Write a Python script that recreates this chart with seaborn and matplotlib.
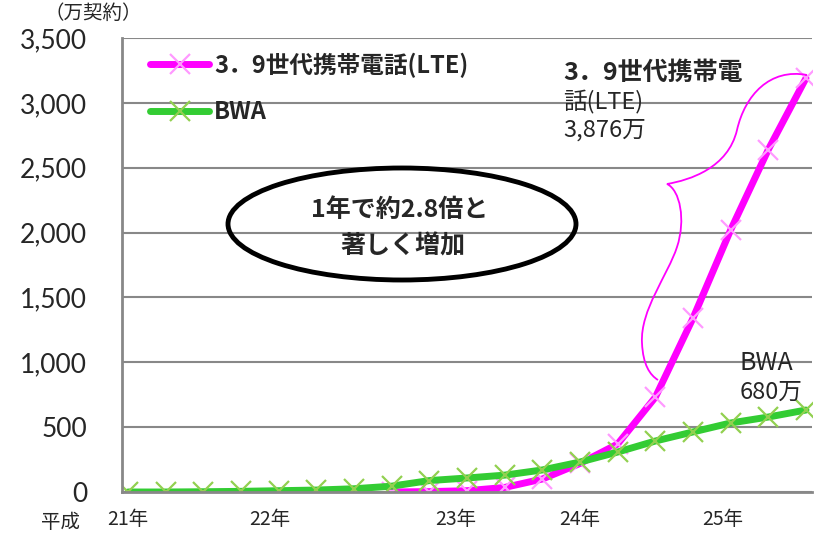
import numpy as np
import matplotlib
matplotlib.use('Agg')
import matplotlib.pyplot as plt
import seaborn as sns
from matplotlib.patches import Ellipse, PathPatch
from matplotlib.path import Path
from matplotlib.transforms import Affine2D
from matplotlib.ticker import StrMethodFormatter

# quarterly points, 平成21年 ~ 平成25年
quarters = list(range(19))
lte = [np.nan] * 7 + [0, 3, 10, 35, 100, 220, 370, 730, 1340, 2020, 2640, 3190]
bwa = [0, 0, 2, 5, 10, 15, 25, 45, 88, 108, 130, 170, 231, 308, 393, 463, 532, 578, 632]
year_labels = ['21年', '22年', '23年', '24年', '25年']
year_pos = [0, 3.77, 8.7, 12.0, 15.8]
lte_name = '3．9世代携帯電話(LTE)'
bwa_name = 'BWA'

sns.set_style('white')
plt.rcParams['font.family'] = ['Noto Sans CJK JP', 'DejaVu Sans']

fig = plt.figure(figsize=(8.31, 5.41), dpi=100)
ax = fig.add_axes([122 / 831, 1 - 492 / 541, 690 / 831, 454 / 541])
# pixel coordinates of the picture, for the hand-placed callouts
px = Affine2D().scale(1 / 831, -1 / 541).translate(0, 1) + fig.transFigure

sns.lineplot(x=quarters, y=lte, color='#FF00FF', lw=5, marker='x', markersize=15,
             markeredgecolor='#FF99FF', markeredgewidth=1.6, label=lte_name, ax=ax)
sns.lineplot(x=quarters, y=bwa, color='#33CC33', lw=5, marker='x', markersize=15,
             markeredgecolor='#92D050', markeredgewidth=1.6, label=bwa_name, ax=ax)

ax.set_xlim(-0.16, 18.16)
ax.set_ylim(0, 3500)
ax.set_yticks(range(0, 3501, 500))
ax.yaxis.set_major_formatter(StrMethodFormatter('{x:,.0f}'))
ax.set_xticks(year_pos)
ax.set_xticklabels(year_labels)
ax.yaxis.grid(True, color='#888888', lw=1.5)
ax.set_axisbelow(True)
for s in ['top', 'right']:
    ax.spines[s].set_visible(False)
for s in ['left', 'bottom']:
    ax.spines[s].set_color('#888888')
    ax.spines[s].set_linewidth(2)
ax.tick_params(axis='y', length=7, width=1.5, color='#888888', pad=18, labelsize=19)
ax.tick_params(axis='x', length=0, pad=12, labelsize=14)
for t in ax.get_yticklabels():
    t.set_family('Lato')

ax.legend(loc='upper left', bbox_to_anchor=(0.01, 1.015), frameon=False, handlelength=2.5,
          prop=dict(family=['Noto Sans CJK JP', 'DejaVu Sans'], weight='bold', size=17),
          labelspacing=0.95, handletextpad=0.2)

fig.text(93, 13, '（万契約）', transform=px, ha='center', va='center', fontsize=14)
fig.text(60, 522, '平成', transform=px, ha='center', va='center', fontsize=14)

# ellipse callout
fig.patches.append(Ellipse((402, 224), 348, 112, transform=px, fill=False, lw=3.5, ec='black'))
fig.text(400, 210, '1年で約2.8倍と', transform=px, ha='center', va='center',
         fontsize=18, fontweight='bold')
fig.text(403, 246, '著しく増加', transform=px, ha='center', va='center',
         fontsize=18, fontweight='bold')

# brace for LTE
verts = [(807, 75), (770, 68), (745, 95), (737, 130),
         (728, 168), (690, 180), (667, 184),
         (680, 190), (686, 220), (677, 247),
         (668, 275), (640, 310), (642, 343),
         (643, 365), (650, 375), (658, 380)]
codes = [Path.MOVETO] + [Path.CURVE4] * 15
fig.patches.append(PathPatch(Path(verts, codes), transform=px, fill=False, ec='#FF00FF', lw=1.3))

fig.text(563, 73, '3．9世代携帯電', transform=px, ha='left', va='center', fontsize=18, fontweight='bold')
fig.text(563, 102, '話(LTE)', transform=px, ha='left', va='center', fontsize=17)
fig.text(563, 130, '3,876万', transform=px, ha='left', va='center', fontsize=17)
fig.text(740, 363, 'BWA', transform=px, ha='left', va='center', fontsize=18)
fig.text(740, 392, '680万', transform=px, ha='left', va='center', fontsize=17)

fig.savefig('out.png', dpi=100)
